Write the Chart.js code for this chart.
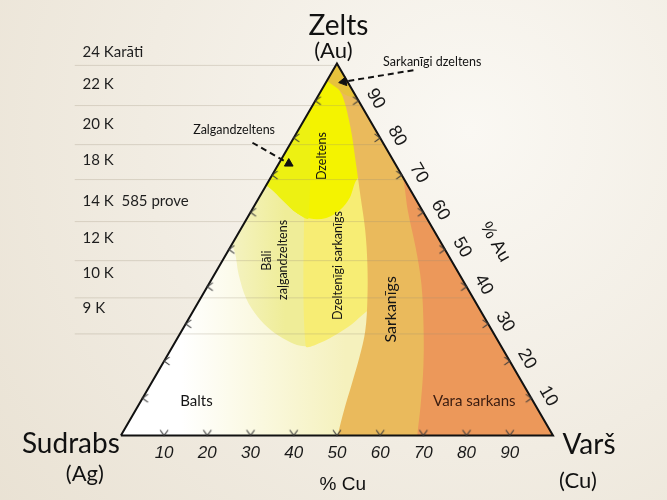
<!DOCTYPE html>
<html>
<head>
<meta charset="utf-8">
<script src="https://cdn.jsdelivr.net/npm/chart.js@4.4.1/dist/chart.umd.min.js"></script>
<style>
  html, body { margin: 0; padding: 0; background: #f1ece3; overflow: hidden; }
  #wrap { width: 667px; height: 500px; position: relative; }
</style>
</head>
<body>
<div id="wrap"><canvas id="chart"></canvas></div>
<script>
(function () {
  'use strict';

  // ass: % Cu apakšā, % Au labajā malā
  var cuTicks = [10, 20, 30, 40, 50, 60, 70, 80, 90];
  var auTicks = [10, 20, 30, 40, 50, 60, 70, 80, 90];

  // karātu tabula pa kreisi
  var karatNames = ['24 Karāti', '22 K', '20 K', '18 K', '14 K  585 prove', '12 K', '10 K', '9 K'];
  var karatTextAu = [103.1, 94.5, 83.7, 74.0, 63.0, 53.0, 43.6, 34.1];
  var karatLineAu = [99.5, 88.7, 78.2, 68.8, 57.5, 47.0, 37.0, 27.3];

  // krāsu zonas, punkti [% Cu, % Au]
  var zoneAll = [[0, 0], [0, 100], [100, 0]];
  var zoneBaliZalgan = [[-17.9, 73.5], [-2.0, 53.5], [1.7, 49.3], [5.6, 43.3], [10.7, 36.7], [15.6, 32.0],
    [20.6, 28.3], [25.7, 25.5], [29.5, 24.1], [31.5, 24.7], [7.3, 73.5]];
  var zoneDzeltenigiSarkanigs = [[6.4, 72.2], [30.7, 24.1], [33.7, 24.9], [36.4, 27.3], [38.5, 29.9],
    [40.2, 33.3], [42.8, 36.7], [25.3, 72.2]];
  var zoneDzeltens = [[-37.1, 89.2], [1.0, 66.7], [5.9, 63.2], [10.8, 59.8], [14.7, 58.3], [18.3, 58.5],
    [20.4, 60.6], [21.0, 64.0], [20.2, 68.8], [21.9, 73.5], [6.0, 107.6]];
  var zoneZalgandzeltens = [[-37.1, 89.2], [1.0, 66.7], [5.9, 63.2], [10.8, 59.8], [14.2, 58.5], [-6.2, 99.7]];
  var zoneSarkanigs = [[-4.6, 103.7], [1.2, 95.8], [5.8, 91.1], [11.8, 82.7], [17.6, 73.5], [23.3, 64.3],
    [29.0, 55.1], [34.1, 45.9], [38.7, 36.7], [42.5, 28.1], [44.7, 21.0], [46.5, 13.9], [48.3, 6.6],
    [50.2, 0], [51.7, -3.9], [111.7, -3.9], [58.2, 103.7]];
  var zoneVaraSarkans = [[28.7, 72.2], [32.2, 66.9], [36.2, 60.4], [42.9, 50.6], [49.2, 40.7], [55.6, 28.9],
    [60.8, 18.4], [65.4, 7.9], [68.6, 0], [70.4, -3.9], [114.0, -3.9]];
  var zoneSarkanigiDzeltens = [[-10.9, 105.0], [-1.7, 96.6], [3.3, 93.4], [6.9, 91.3], [13.0, 91.3], [6.4, 105.0]];

  // norādes bultas [% Cu, % Au]
  var arrowSarkanigi = [[18.6, 98.2], [4.0, 95.1]];
  var arrowZalgan = [[-8.9, 78.7], [2.3, 73.1]];

  var SQ3 = Math.sqrt(3) / 2;
  function tern(cu, au) {
    return { x: (cu + au / 2) / 100, y: au / 100 * SQ3 };
  }
  function pts(list) {
    return list.map(function (p) { return tern(p[0], p[1]); });
  }

  var textFont = 'Lato, "Open Sans", sans-serif';
  var numFont = '"Liberation Sans", Arial, sans-serif';
  var TABLE_LINE_X = -47 / 440;
  var TABLE_TEXT_X = -39 / 440;

  // bultiņa asij
  function chevron() {
    var c = document.createElement('canvas');
    c.width = 14; c.height = 14;
    var g = c.getContext('2d');
    g.strokeStyle = '#3a3a3a';
    g.lineWidth = 1.1;
    g.beginPath();
    g.moveTo(3, 1.5); g.lineTo(7, 7); g.lineTo(11, 1.5);
    g.stroke();
    return c;
  }
  var chev = chevron();

  function gradX(x0, x1, c0, c1) {
    return function (context) {
      var chart = context.chart;
      if (!chart.chartArea) return c1;
      var sx = chart.scales.x;
      var g = chart.ctx.createLinearGradient(sx.getPixelForValue(x0), 0, sx.getPixelForValue(x1), 0);
      g.addColorStop(0, c0);
      g.addColorStop(1, c1);
      return g;
    };
  }

  function zone(list, color, order, tension, last) {
    return {
      data: pts(list), backgroundColor: color, borderWidth: 0, pointRadius: 0,
      fill: 'shape', tension: tension, order: order, clipEnd: !!last
    };
  }

  function arrow(list) {
    var d = pts(list);
    var ang = Math.atan2(d[1].x - d[0].x, d[1].y - d[0].y) * 180 / Math.PI;
    return {
      data: d, borderColor: '#111', borderWidth: 2, borderDash: [6, 4], fill: false,
      pointRadius: [0, 5], pointStyle: 'triangle', pointRotation: [0, ang],
      pointBackgroundColor: '#111', pointBorderColor: '#111', pointBorderWidth: 1, order: 1
    };
  }

  function ticks(data, rot) {
    return {
      data: data, showLine: false, pointStyle: chev, pointRadius: 4, pointRotation: rot,
      fill: false, order: 3
    };
  }

  var datasets = [
    zone(zoneAll, gradX(0.14, 0.52, '#ffffff', '#f5f1bd'), 20, 0),
    zone(zoneBaliZalgan, gradX(0.26, 0.38, '#f4f2c0', '#efed98'), 19, 0.35),
    zone(zoneDzeltenigiSarkanigs, '#f7ed74', 18, 0.3),
    zone(zoneDzeltens, '#f4f300', 17, 0.35),
    zone(zoneZalgandzeltens, '#edf112', 16, 0.3),
    zone(zoneSarkanigs, '#eaba5c', 15, 0.35),
    zone(zoneVaraSarkans, '#ec985a', 14, 0.35),
    zone(zoneSarkanigiDzeltens, '#e7c23c', 13, 0.35, true)
  ];

  karatLineAu.forEach(function (a) {
    var y = a / 100 * SQ3;
    datasets.push({
      data: [{ x: TABLE_LINE_X, y: y }, { x: tern(100 - a, a).x, y: y }],
      borderColor: 'rgba(150,140,120,0.28)', borderWidth: 1, pointRadius: 0, fill: false, order: 5
    });
  });

  datasets.push({
    data: pts([[0, 0], [0, 100], [100, 0], [0, 0]]),
    borderColor: '#111', borderWidth: 2, borderJoinStyle: 'miter', pointRadius: 0, fill: false, order: 4
  });

  datasets.push(ticks(cuTicks.map(function (c) { return tern(c, 0); }), 0));
  datasets.push(ticks(auTicks.map(function (a) { return tern(0, a); }), 90));
  datasets.push(ticks(auTicks.map(function (a) { return tern(100 - a, a); }), -90));
  datasets.push(arrow(arrowSarkanigi));
  datasets.push(arrow(arrowZalgan));

  var notes = [
    { t: 'Dzeltens', cu: 9.1, au: 75.1, size: 12.5, rot: -90 },
    { t: 'Bāli', cu: 10.2, au: 47.0, size: 12.5, rot: -90 },
    { t: 'zaļgandzeltens', cu: 13.9, au: 47.2, size: 12.5, rot: -90 },
    { t: 'Dzeltenīgi sarkanīgs', cu: 27.4, au: 45.7, size: 12.5, rot: -90 },
    { t: 'Sarkanīgs', cu: 45.6, au: 33.9, size: 16, rot: -90 },
    { t: 'Balts', cu: 12.9, au: 9.2, size: 15 },
    { t: 'Vara sarkans', cu: 77.2, au: 9.2, size: 15, color: '#3a1c10' },
    { t: 'Sarkanīgi dzeltens', cu: 21.8, au: 100.5, size: 12.5 },
    { t: 'Zalgandzeltens', cu: -14.9, au: 82.2, size: 12.5 },
    { t: '% Au', cu: 60.6, au: 52.0, size: 18, rot: 60, font: numFont }
  ];

  // virsotņu nosaukumi: nobīde pikseļos no stūra, bāzes līnija
  var corners = [
    { t: 'Zelts', cu: 0, au: 100, dx: 1.5, dy: -29, size: 28 },
    { t: '(Au)', cu: 0, au: 100, dx: -3.5, dy: -6, size: 22 },
    { t: 'Sudrabs', cu: 0, au: 0, dx: -50, dy: 18, size: 28 },
    { t: '(Ag)', cu: 0, au: 0, dx: -36, dy: 46, size: 22 },
    { t: 'Varš', cu: 100, au: 0, dx: 36, dy: 19, size: 28 },
    { t: '(Cu)', cu: 100, au: 0, dx: 25, dy: 53, size: 22 },
    { t: '% Cu', cu: 51, au: 0, dx: 1.5, dy: 55, size: 19, font: numFont }
  ];

  var bgPlugin = {
    id: 'bg',
    beforeDraw: function (chart) {
      var ctx = chart.ctx, w = chart.width, h = chart.height;
      var g = ctx.createRadialGradient(470, 130, 0, 470, 130, 650);
      g.addColorStop(0, '#faf8f3');
      g.addColorStop(1, '#e8e0d1');
      ctx.save();
      ctx.fillStyle = g;
      ctx.fillRect(0, 0, w, h);
      ctx.restore();
    }
  };

  var clipPlugin = {
    id: 'triClip',
    beforeDatasetsDraw: function (chart) {
      var ctx = chart.ctx, sx = chart.scales.x, sy = chart.scales.y;
      ctx.save();
      ctx.beginPath();
      pts(zoneAll).forEach(function (p, i) {
        var X = sx.getPixelForValue(p.x), Y = sy.getPixelForValue(p.y);
        if (i === 0) ctx.moveTo(X, Y); else ctx.lineTo(X, Y);
      });
      ctx.closePath();
      ctx.clip();
    },
    afterDatasetDraw: function (chart, args) {
      if (chart.data.datasets[args.index].clipEnd) chart.ctx.restore();
    }
  };

  var textPlugin = {
    id: 'texts',
    afterDatasetsDraw: function (chart) {
      var ctx = chart.ctx, sx = chart.scales.x, sy = chart.scales.y;
      function at(cu, au) {
        var p = tern(cu, au);
        return [sx.getPixelForValue(p.x), sy.getPixelForValue(p.y)];
      }
      function put(t, x, y, font, rot, align, base, color) {
        ctx.save();
        ctx.translate(x, y);
        if (rot) ctx.rotate(rot * Math.PI / 180);
        ctx.font = font;
        ctx.fillStyle = color || '#141414';
        ctx.textAlign = align || 'center';
        ctx.textBaseline = base || 'middle';
        ctx.fillText(t, 0, 0);
        ctx.restore();
      }

      // karātu tabula
      karatNames.forEach(function (t, i) {
        var y = sy.getPixelForValue(karatTextAu[i] / 100 * SQ3);
        put(t, sx.getPixelForValue(TABLE_TEXT_X), y, '15px ' + textFont, 0, 'left', 'middle', '#1e1e1e');
      });

      // Cu skala
      cuTicks.forEach(function (c) {
        var p = at(c, 0);
        put(String(c), p[0], p[1] + 23, 'italic 17px ' + numFont, 0, 'center', 'alphabetic', '#1a1a1a');
      });
      // Au skala
      auTicks.forEach(function (a) {
        var p = at(100 - a, a);
        put(String(a), p[0] + 17, p[1] - 2, '18px ' + numFont, 60, 'center', 'middle', '#1a1a1a');
      });

      notes.forEach(function (n) {
        var p = at(n.cu, n.au);
        put(n.t, p[0], p[1], n.size + 'px ' + (n.font || textFont), n.rot || 0, 'center', 'middle', n.color);
      });

      corners.forEach(function (n) {
        var p = at(n.cu, n.au);
        put(n.t, p[0] + n.dx, p[1] + n.dy, n.size + 'px ' + (n.font || textFont), 0, 'center', 'alphabetic', '#111');
      });
    }
  };

  var ctx = document.getElementById('chart');
  new Chart(ctx.getContext('2d'), {
    type: 'line',
    data: { datasets: datasets },
    options: {
      responsive: true,
      maintainAspectRatio: false,
      animation: false,
      events: [],
      layout: { padding: 0 },
      scales: {
        x: { type: 'linear', min: -117 / 440, max: 550 / 440, display: false },
        y: { type: 'linear', min: -60 / 440, max: 1, display: false }
      },
      plugins: {
        legend: { display: false },
        tooltip: { enabled: false }
      }
    },
    plugins: [bgPlugin, clipPlugin, textPlugin]
  });
})();
</script>
</body>
</html>
